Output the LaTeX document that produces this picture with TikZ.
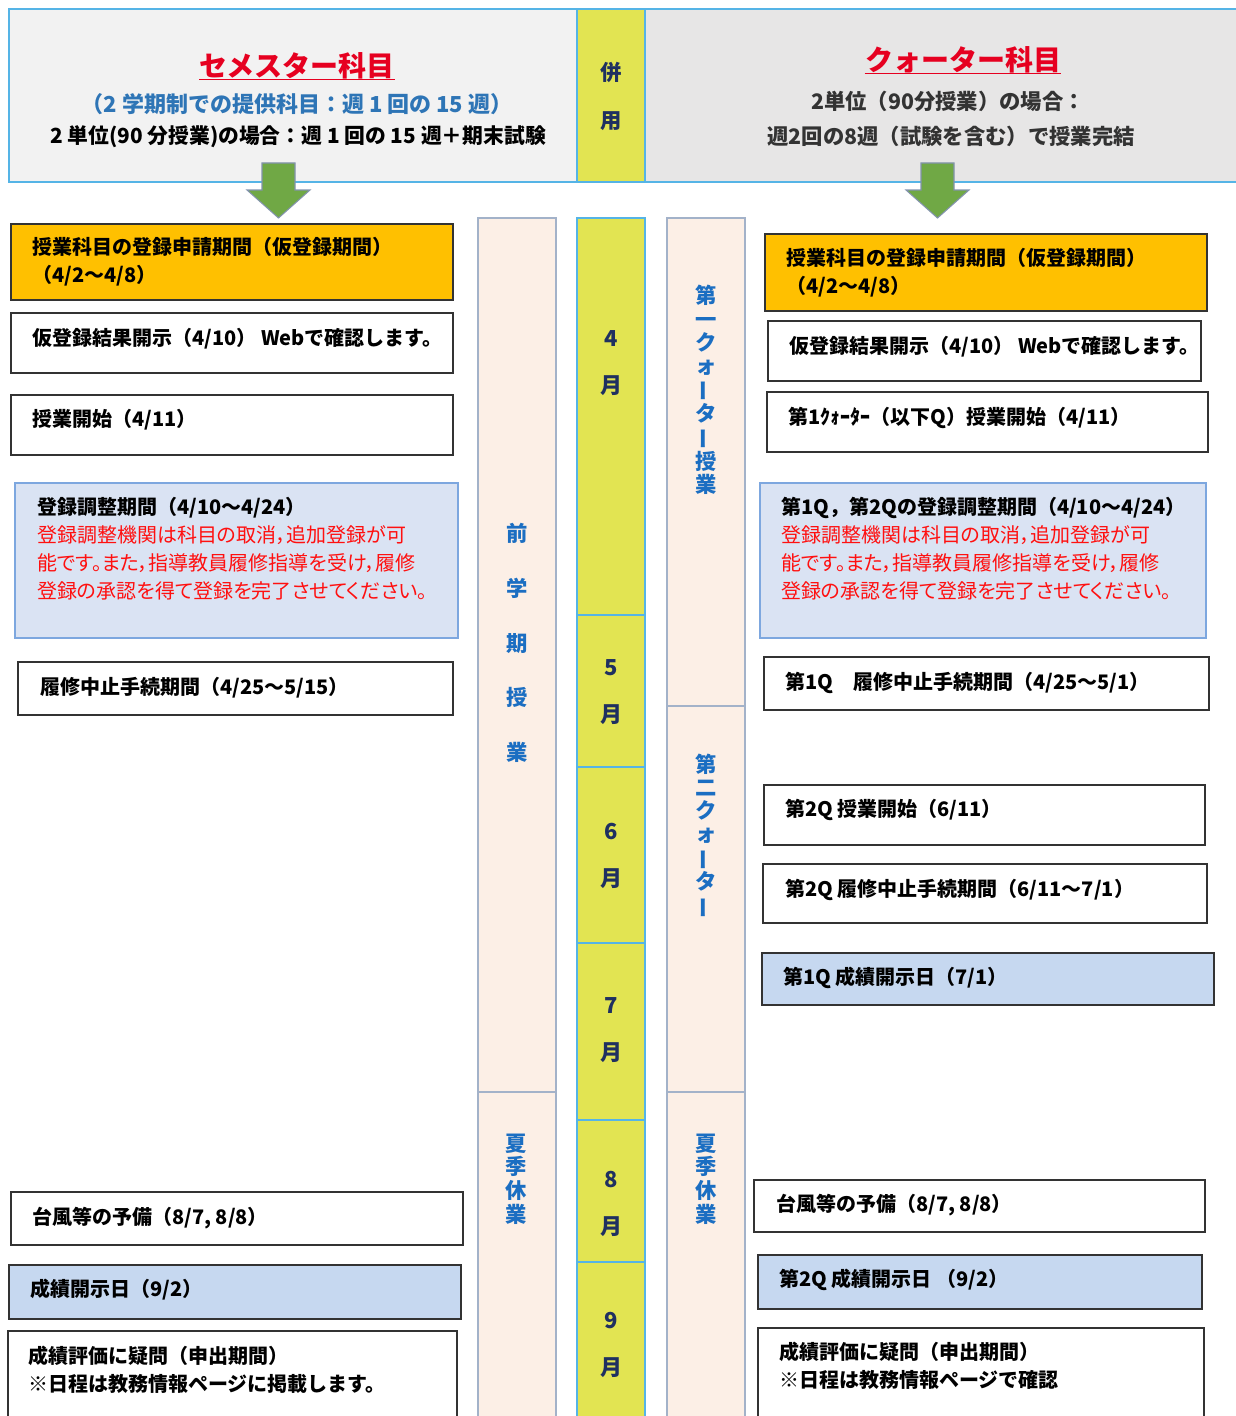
\documentclass[tikz,border=0pt]{standalone}
\usepackage{fontspec}
\setmainfont{Noto Sans CJK JP}
\newfontfamily\jppalt{Noto Sans CJK JP}[RawFeature=+palt]
\usetikzlibrary{positioning, calc}

\definecolor{semgray}{HTML}{F2F2F2}
\definecolor{qgray}{HTML}{E7E6E6}
\definecolor{hdrline}{HTML}{55B4E6}
\definecolor{lime}{HTML}{E2E452}
\definecolor{peach}{HTML}{FCEFE6}
\definecolor{colline}{HTML}{A3B2C9}
\definecolor{regorange}{HTML}{FFC000}
\definecolor{adjfill}{HTML}{DAE3F3}
\definecolor{adjline}{HTML}{7DA7DF}
\definecolor{gradefill}{HTML}{C6D8F0}
\definecolor{titlered}{HTML}{E60020}
\definecolor{txtred}{HTML}{FF1010}
\definecolor{subblue}{HTML}{2E75B6}
\definecolor{vblue}{HTML}{1B6EC2}
\definecolor{navy}{HTML}{1F3060}
\definecolor{arrowgreen}{HTML}{70A845}
\definecolor{arrowline}{HTML}{8393AD}

\newcommand{\evfont}{\fontsize{15}{21}\selectfont\bfseries}
\newcommand{\redln}[1]{{\jppalt\mdseries\color{txtred}#1}}
\newcommand{\vbar}{\rotatebox[origin=c]{90}{ー}}

\begin{document}
\begin{tikzpicture}[x=0.75pt, y=-0.75pt,
    span/.style n args={4}{anchor=north west, at={(#1,#2)}, inner sep=0pt, outer sep=0pt,
        minimum width={(#3-#1)*0.75pt}, minimum height={(#4-#2)*0.75pt}},
    hdrbox/.style={draw=hdrline, line width=1pt},
    colbox/.style={draw=colline, fill=peach, line width=1pt},
    monbox/.style={draw=hdrline, fill=lime, line width=0.8pt},
    evbox/.style={draw=black!80, fill=white, line width=1pt},
    regbox/.style={evbox, fill=regorange},
    adjbox/.style={draw=adjline, fill=adjfill, line width=1pt},
    gradebox/.style={evbox, fill=gradefill},
    evtext/.style={anchor=north west, inner sep=0pt, align=left, font=\evfont},
    ttl/.style={inner sep=0pt, text=titlered, font=\fontsize{21}{24}\selectfont\bfseries},
    mon/.style={align=center, inner sep=0pt, text=navy, font=\fontsize{16.5}{35}\selectfont\bfseries},
    vtext/.style={align=center, inner sep=0pt, text=vblue, font=\fontsize{16}{17.3}\selectfont\bfseries},
    bigarrow/.style={draw=arrowline, fill=arrowgreen, line width=0.8pt}
]
\useasboundingbox (0,0) rectangle (1235,1416);

% header
\node[span={9}{9}{577}{182}, hdrbox, fill=semgray] (semhdr) {};
\node[span={577}{9}{645}{182}, hdrbox, fill=lime] (heiyo) {};
\node[span={645}{9}{1237}{182}, hdrbox, fill=qgray] (qhdr) {};

\node[ttl] (semttl) at (297,66) {セメスター科目};
\draw[titlered, line width=1.2pt] (semttl.south west) -- (semttl.south east);
\node[inner sep=0pt, text=subblue, font=\fontsize{16.5}{18}\selectfont\bfseries] (semsub) at (297,104) {（2 学期制での提供科目：週 1 回の 15 週）};
\node[inner sep=0pt, font=\fontsize{15.6}{18}\selectfont\bfseries] (semnote) at (298,137) {2 単位(90 分授業)の場合：週 1 回の 15 週＋期末試験};

\node[mon, font=\fontsize{16}{36}\selectfont\bfseries] (heiyot) at (611,96) {併\\用};

\node[ttl] (qttl) at (963,60) {クォーター科目};
\draw[titlered, line width=1.2pt] (qttl.south west) -- (qttl.south east);
\node[inner sep=0pt, text=black!80, font=\fontsize{16}{18}\selectfont\bfseries] (qnote1) at (948,101) {2単位（90分授業）の場合：};
\node[inner sep=0pt, text=black!80, font=\fontsize{16}{18}\selectfont\bfseries] (qnote2) at (951,136) {週2回の8週（試験を含む）で授業完結};

% arrows
\draw[bigarrow] (262,163) -- (295,163) -- (295,190) -- (310,190) -- (278.5,218) -- (247,190) -- (262,190) -- cycle;
\draw[bigarrow] (921,163) -- (954,163) -- (954,190) -- (969,190) -- (937.5,218) -- (906,190) -- (921,190) -- cycle;

% term columns
\node[span={478}{218}{556}{1092}, colbox] (zenki) {};
\node[span={478}{1092}{556}{1420}, colbox] (natsuL) {};
\node[span={667}{218}{745}{706}, colbox] (q1) {};
\node[span={667}{706}{745}{1092}, colbox] (q2) {};
\node[span={667}{1092}{745}{1420}, colbox] (natsuR) {};

\node[vtext, font=\fontsize{16}{41}\selectfont\bfseries] (zenkit) at (517,643) {前\\学\\期\\授\\業};
\node[vtext, font=\fontsize{16}{17.8}\selectfont\bfseries] (natsuLt) at (516,1179) {夏\\季\\休\\業};
\node[vtext] (q1t) at (706,390) {第\\一\\ク\\ォ\\\vbar\\タ\\\vbar\\授\\業};
\node[vtext] (q2t) at (706,836) {第\\二\\ク\\ォ\\\vbar\\タ\\\vbar};
\node[vtext, font=\fontsize{16}{17.8}\selectfont\bfseries] (natsuRt) at (706,1179) {夏\\季\\休\\業};

% months
\node[span={577}{218}{645}{615}, monbox] (m4) {};
\node[span={577}{615}{645}{767}, monbox] (m5) {};
\node[span={577}{767}{645}{943}, monbox] (m6) {};
\node[span={577}{943}{645}{1120}, monbox] (m7) {};
\node[span={577}{1120}{645}{1262}, monbox] (m8) {};
\node[span={577}{1262}{645}{1420}, monbox] (m9) {};
\node[mon] (m4t) at (611,363) {4\\月};
\node[mon] (m5t) at (611,692) {5\\月};
\node[mon] (m6t) at (611,856) {6\\月};
\node[mon] (m7t) at (611,1030) {7\\月};
\node[mon] (m8t) at (611,1204) {8\\月};
\node[mon] (m9t) at (611,1345) {9\\月};

% semester events
\node[span={11}{224}{453}{300}, regbox] (regL) {};
\node[evtext] (regLt) at (32,237) {授業科目の登録申請期間（仮登録期間）\\（4/2〜4/8）};
\node[span={11}{313}{453}{373}, evbox] (resL) {};
\node[evtext] (resLt) at (32,328) {仮登録結果開示（4/10） Webで確認します。};
\node[span={11}{395}{453}{455}, evbox] (startL) {};
\node[evtext] (startLt) at (32,409) {授業開始（4/11）};
\node[span={15}{483}{458}{638}, adjbox] (adjL) {};
\node[evtext] (adjLt) at (37,497) {登録調整期間（4/10〜4/24）\\
    \redln{登録調整機関は科目の取消，追加登録が可}\\
    \redln{能です。また，指導教員履修指導を受け，履修}\\
    \redln{登録の承認を得て登録を完了させてください。}};
\node[span={18}{662}{453}{715}, evbox] (stopL) {};
\node[evtext] (stopLt) at (40,677) {履修中止手続期間（4/25〜5/15）};
\node[span={11}{1192}{463}{1245}, evbox] (typL) {};
\node[evtext] (typLt) at (32,1207) {台風等の予備（8/7, 8/8）};
\node[span={9}{1265}{461}{1319}, gradebox] (gradeL) {};
\node[evtext] (gradeLt) at (30,1279) {成績開示日（9/2）};
\node[span={8}{1331}{457}{1422}, evbox] (claimL) {};
\node[evtext] (claimLt) at (28,1346) {成績評価に疑問（申出期間）\\※日程は教務情報ページに掲載します。};

% quarter events
\node[span={765}{234}{1207}{311}, regbox] (regR) {};
\node[evtext] (regRt) at (786,248) {授業科目の登録申請期間（仮登録期間）\\（4/2〜4/8）};
\node[span={768}{321}{1201}{381}, evbox] (resR) {};
\node[evtext] (resRt) at (789,336) {仮登録結果開示（4/10） Webで確認します。};
\node[span={767}{392}{1208}{452}, evbox] (startR) {};
\node[evtext] (startRt) at (788,407) {第1ｸｫｰﾀｰ（以下Q）授業開始（4/11）};
\node[span={760}{483}{1206}{638}, adjbox] (adjR) {};
\node[evtext] (adjRt) at (781,497) {第1Q，第2Qの登録調整期間（4/10〜4/24）\\
    \redln{登録調整機関は科目の取消，追加登録が可}\\
    \redln{能です。また，指導教員履修指導を受け，履修}\\
    \redln{登録の承認を得て登録を完了させてください。}};
\node[span={764}{657}{1209}{710}, evbox] (stop1R) {};
\node[evtext] (stop1Rt) at (785,672) {第1Q　履修中止手続期間（4/25〜5/1）};
\node[span={764}{785}{1205}{845}, evbox] (start2R) {};
\node[evtext] (start2Rt) at (785,799) {第2Q 授業開始（6/11）};
\node[span={763}{864}{1207}{923}, evbox, line width=1.6pt] (stop2R) {};
\node[evtext] (stop2Rt) at (785,879) {第2Q 履修中止手続期間（6/11〜7/1）};
\node[span={762}{953}{1214}{1005}, gradebox] (grade1R) {};
\node[evtext] (grade1Rt) at (783,967) {第1Q 成績開示日（7/1）};
\node[span={754}{1180}{1205}{1232}, evbox] (typR) {};
\node[evtext] (typRt) at (776,1194) {台風等の予備（8/7, 8/8）};
\node[span={758}{1255}{1202}{1309}, gradebox] (grade2R) {};
\node[evtext] (grade2Rt) at (779,1269) {第2Q 成績開示日 （9/2）};
\node[span={758}{1328}{1204}{1422}, evbox] (claimR) {};
\node[evtext] (claimRt) at (779,1342) {成績評価に疑問（申出期間）\\※日程は教務情報ページで確認};
\end{tikzpicture}
\end{document}
